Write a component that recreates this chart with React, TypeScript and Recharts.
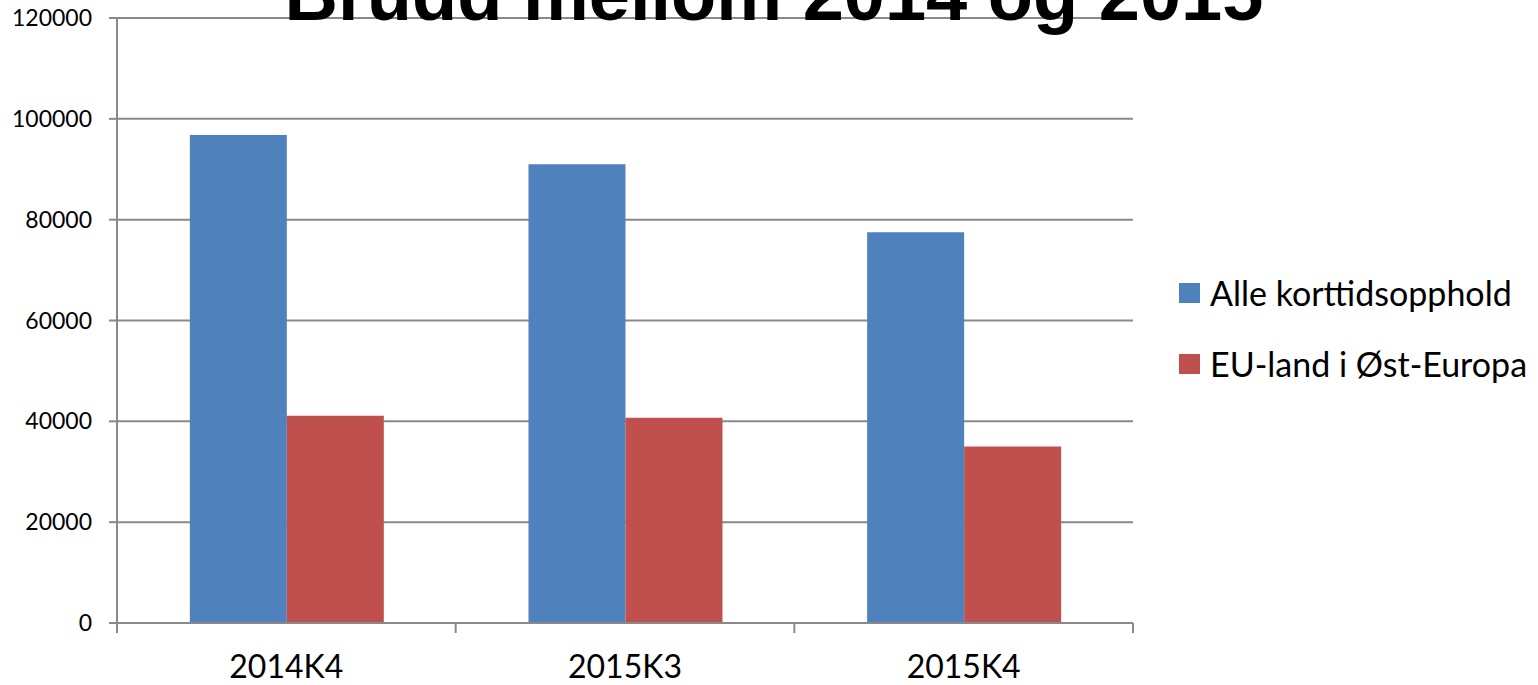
import React from 'react';
import { BarChart, Bar, XAxis, YAxis, CartesianGrid } from 'recharts';

const categories = ['2014K4', '2015K3', '2015K4'];
const alleKorttid = [96800, 91000, 77500];
const euOstEuropa = [41100, 40700, 35000];
const yTicks = [0, 20000, 40000, 60000, 80000, 100000, 120000];

const seriesNames = ['Alle korttidsopphold', 'EU-land i Øst-Europa'];
const colors = ['#4F81BD', '#C0504D'];

const data = categories.map((c, i) => ({ name: c, a: alleKorttid[i], b: euOstEuropa[i] }));

const W = 1538;
const H = 685;
const plotLeft = 117;
const plotRight = 1133;
const plotTop = 18;
const plotBottom = 623;
const band = (plotRight - plotLeft) / categories.length;
const gridColor = '#898989';
const font = 'Lato, "Open Sans", sans-serif';

const XTick = (props: any) => {
  const { x, y, payload, index } = props;
  const left = x - band / 2;
  return (
    <g>
      <line x1={left} y1={y} x2={left} y2={y + 10} stroke={gridColor} strokeWidth={2} />
      {index === categories.length - 1 && (
        <line x1={x + band / 2} y1={y} x2={x + band / 2} y2={y + 10} stroke={gridColor} strokeWidth={2} />
      )}
      <text x={x} y={y + 55} textAnchor="middle" fill="#000" fontSize={32} fontFamily={font}>
        {payload.value}
      </text>
    </g>
  );
};

const LegendBox = () => (
  <div
    style={{
      position: 'absolute',
      left: 1179,
      top: 257,
      fontFamily: font,
      fontSize: 34,
      color: '#000',
    }}
  >
    {seriesNames.map((n, i) => (
      <div key={n} style={{ display: 'flex', alignItems: 'center', height: 71, whiteSpace: 'nowrap' }}>
        <span style={{ display: 'inline-block', width: 21, height: 20, background: colors[i], marginRight: 10 }} />
        <span>{n}</span>
      </div>
    ))}
  </div>
);

export default function App() {
  return (
    <div style={{ position: 'absolute', left: 0, top: 0, width: W, height: H, background: '#fff', overflow: 'hidden' }}>
      <BarChart
        width={W}
        height={H}
        data={data}
        margin={{ top: plotTop, right: W - plotRight, bottom: 0, left: 0 }}
        barCategoryGap="21.5%"
        barGap={0}
      >
        <CartesianGrid vertical={false} stroke={gridColor} strokeWidth={2} />
        <XAxis
          dataKey="name"
          height={H - plotBottom}
          tick={<XTick />}
          tickLine={false}
          tickSize={0}
          tickMargin={0}
          axisLine={{ stroke: gridColor, strokeWidth: 2 }}
          interval={0}
        />
        <YAxis
          width={plotLeft}
          domain={[0, 120000]}
          ticks={yTicks}
          interval={0}
          tickSize={8}
          tickMargin={17}
          tickLine={{ stroke: gridColor, strokeWidth: 2 }}
          axisLine={{ stroke: gridColor, strokeWidth: 2 }}
          tick={{ fill: '#000', fontSize: 23, fontFamily: font }}
        />
        <Bar dataKey="a" name={seriesNames[0]} fill={colors[0]} isAnimationActive={false} />
        <Bar dataKey="b" name={seriesNames[1]} fill={colors[1]} isAnimationActive={false} />
      </BarChart>
      <LegendBox />
      <div
        style={{
          position: 'absolute',
          left: 0,
          top: -41.6,
          width: 1548,
          textAlign: 'center',
          fontFamily: '"Liberation Sans", Arial, sans-serif',
          fontWeight: 'bold',
          fontSize: 74,
          lineHeight: '74px',
          color: '#000',
          whiteSpace: 'nowrap',
        }}
      >
        Brudd mellom 2014 og 2015
      </div>
    </div>
  );
}
